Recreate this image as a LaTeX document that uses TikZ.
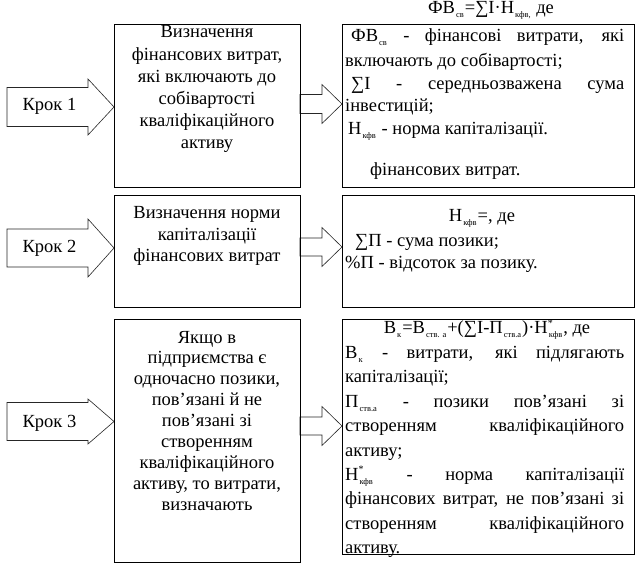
\documentclass[tikz,border=0pt]{standalone}
\usepackage{fontspec}
\setmainfont{Liberation Serif}
\newcommand{\sbx}[1]{\kern1pt\raisebox{-4pt}{\fontsize{8.5}{9}\selectfont #1}\kern1pt\relax}
\newcommand{\stx}{\rlap{\raisebox{7.5pt}{\fontsize{10}{10}\selectfont *}}}
\newcommand{\jl}[1]{\makebox[279pt][s]{#1}}
\newcommand{\barrow}[6]{\draw[blk] (#1,{#4-#5}) -- (#2,{#4-#5}) -- (#2,{#4-#6}) -- (#3,#4) -- (#2,{#4+#6}) -- (#2,{#4+#5}) -- (#1,{#4+#5}) -- cycle;}
\begin{document}
\begin{tikzpicture}[x=1pt,y=-1pt]
\tikzset{
  box/.style={draw=black, line width=1.1pt, inner sep=0pt, anchor=north west},
  blk/.style={draw=black!85, line width=0.6pt, fill=white, line join=miter},
  tx/.style={inner sep=0pt, font=\fontsize{18.5}{22}\selectfont},
  tc/.style={tx, anchor=base},
  tl/.style={tx, anchor=base west},
}
\useasboundingbox[fill=white] (0,0) rectangle (635,564);

% block arrows
\barrow{7}{88}{114}{107}{19.5}{28}
\barrow{7}{88}{114}{248}{19}{29}
\barrow{7}{88}{114}{421.5}{19}{22.5}
\barrow{300}{322}{342}{104}{9.5}{19.5}
\barrow{300}{322}{342}{247}{9}{19.5}
\barrow{300}{322}{342}{426}{9}{19.5}

% boxes
\node[box, minimum width=186pt, minimum height=163pt] (L1) at (114,24) {};
\node[box, minimum width=186pt, minimum height=112pt] (L2) at (114,195) {};
\node[box, minimum width=186pt, minimum height=243pt] (L3) at (114,319) {};
\node[box, minimum width=291.5pt, minimum height=163pt] (R1) at (342,24) {};
\node[box, minimum width=291.5pt, minimum height=112pt] (R2) at (342,195) {};
\node[box, minimum width=291.5pt, minimum height=235pt] (R3) at (342,319) {};

% step labels
\node[tc] (k1) at (49.5,111) {Крок 1};
\node[tc] (k2) at (49.5,253) {Крок 2};
\node[tc] (k3) at (49.5,427) {Крок 3};

% left box 1
\node[tc] (a1) at (207,38) {Визначення};
\node[tc] (a2) at (207,60.2) {фінансових витрат,};
\node[tc] (a3) at (207,82.4) {які включають до};
\node[tc] (a4) at (207,104.6) {собівартості};
\node[tc] (a5) at (207,126.8) {кваліфікаційного};
\node[tc] (a6) at (207,149) {активу};

% left box 2
\node[tc] (b1) at (207,219) {Визначення норми};
\node[tc] (b2) at (207,240.5) {капіталізації};
\node[tc] (b3) at (207,262) {фінансових витрат};

% left box 3
\node[tc] (c1) at (207,343) {Якщо в};
\node[tc] (c2) at (207,363.9) {підприємства є};
\node[tc] (c3) at (207,384.8) {одночасно позики,};
\node[tc] (c4) at (207,405.7) {пов’язані й не};
\node[tc] (c5) at (207,426.6) {пов’язані зі};
\node[tc] (c6) at (207,447.5) {створенням};
\node[tc] (c7) at (207,468.4) {кваліфікаційного};
\node[tc] (c8) at (207,489.3) {активу, то витрати,};
\node[tc] (c9) at (207,510.2) {визначають};

% formula above right box 1
\node[tc] (f1) at (491,13.5) {ФВ\sbx{св}=∑I·Н\sbx{кфв,} де};

% right box 1
\node[tl] (d1) at (351,42) {\makebox[273pt][s]{ФВ\sbx{св} - фінансові витрати, які}};
\node[tl] (d2) at (345,67) {включають до собівартості;};
\node[tl] (d3) at (351,90) {\makebox[273pt][s]{∑I - середньозважена сума}};
\node[tl] (d4) at (345,112) {інвестицій;};
\node[tl] (d5) at (348,135) {Н\sbx{кфв} - норма капіталізації.};
\node[tl] (d6) at (370,176) {фінансових витрат.};

% right box 2
\node[tc] (e1) at (482,222) {Н\sbx{кфв}=, де};
\node[tl] (e2) at (355,247) {∑П - сума позики;};
\node[tl] (e3) at (345,269) {\%П - відсоток за позику.};

% right box 3
\node[tc] (g0) at (487,334) {В\sbx{к}=В\sbx{ств. а}+(∑I-П\sbx{ств.а})·Н\stx\sbx{кфв}, де};
\node[tl] (g1) at (345,358.4) {\jl{В\sbx{к} - витрати, які підлягають}};
\node[tl] (g2) at (345,382.8) {капіталізації;};
\node[tl] (g3) at (345,407.2) {\jl{П\sbx{ств.а} - позики пов’язані зі}};
\node[tl] (g4) at (345,431.6) {\jl{створенням кваліфікаційного}};
\node[tl] (g5) at (345,456) {активу;};
\node[tl] (g6) at (345,480.4) {\jl{Н\stx\sbx{кфв} - норма капіталізації}};
\node[tl] (g7) at (345,504.8) {\jl{фінансових витрат, не пов’язані зі}};
\node[tl] (g8) at (345,529.2) {\jl{створенням кваліфікаційного}};
\node[tl] (g9) at (345,553.6) {активу.};
\end{tikzpicture}
\end{document}
